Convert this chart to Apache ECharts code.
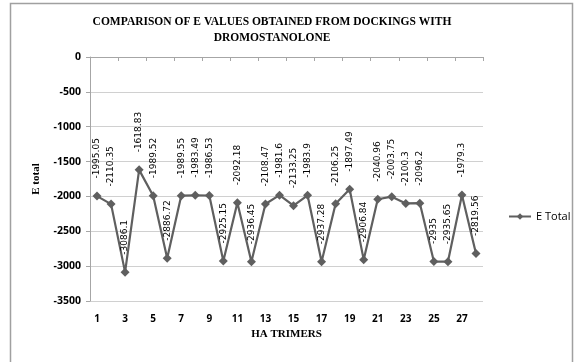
<!DOCTYPE html>
<html>
<head>
<meta charset="utf-8">
<script src="https://cdn.jsdelivr.net/npm/echarts@6/dist/echarts.min.js"></script>
<style>
html,body{margin:0;padding:0;background:#fff;}
#chart{width:575px;height:362px;}
</style>
</head>
<body>
<div id="chart"></div>
<script>
// HA trimer index and docking total energy values
const trimers = ['1','2','3','4','5','6','7','8','9','10','11','12','13','14','15','16','17','18','19','20','21','22','23','24','25','26','27','28'];
const eTotal = [-1995.05, -2110.35, -3086.1, -1618.83, -1989.52, -2886.72, -1989.55, -1983.49, -1986.53, -2925.15,
  -2092.18, -2936.45, -2108.47, -1981.6, -2133.25, -1983.9, -2937.28, -2106.25, -1897.49, -2906.84,
  -2040.96, -2003.75, -2100.3, -2096.2, -2935, -2935.65, -1979.3, -2819.56];
const yTicks = { min: -3500, max: 0, step: 500 };

const chart = echarts.init(document.getElementById('chart'));
const serifBold = { fontFamily: '"Liberation Serif", "DejaVu Serif", serif', fontWeight: 'bold', color: '#000' };
const sansBold = { fontFamily: '"Open Sans", "Liberation Sans", sans-serif', fontWeight: 'bold', color: '#000' };
const lineColor = '#5f5f5f';

chart.setOption({
  animation: false,
  backgroundColor: '#fff',
  title: {
    text: 'COMPARISON OF E VALUES OBTAINED FROM DOCKINGS WITH\nDROMOSTANOLONE',
    left: 267, textAlign: 'center', top: 9,
    textStyle: Object.assign({ fontSize: 11.5, lineHeight: 16 }, serifBold)
  },
  graphic: [{
    type: 'rect', shape: { x: 10.5, y: 3.5, width: 562, height: 360 },
    style: { fill: 'none', stroke: '#a0a0a0', lineWidth: 1.5 }, silent: true
  }],
  legend: {
    data: ['E Total'], left: 503, top: 206, itemWidth: 22, itemHeight: 8,
    textStyle: { fontFamily: '"Open Sans", "Liberation Sans", sans-serif', fontSize: 11, color: '#000' },
    itemGap: 4
  },
  grid: { left: 90, right: 92, top: 57, bottom: 61 },
  xAxis: [{
    type: 'category', data: trimers, position: 'bottom',
    name: 'HA TRIMERS', nameLocation: 'middle', nameGap: 28,
    nameTextStyle: Object.assign({ fontSize: 11 }, serifBold),
    axisLine: { show: false }, axisTick: { show: false },
    axisLabel: Object.assign({ interval: 1, margin: 13, fontSize: 10 }, sansBold)
  }, {
    type: 'category', data: trimers, position: 'top',
    axisLine: { show: true, onZero: false, lineStyle: { color: '#a6a6a6', width: 1 } },
    axisTick: { show: true, inside: true, length: 4, lineStyle: { color: '#a6a6a6' } },
    axisLabel: { show: false }
  }],
  yAxis: {
    type: 'value', min: yTicks.min, max: yTicks.max, interval: yTicks.step,
    name: 'E total', nameLocation: 'middle', nameGap: 48, nameRotate: 90,
    nameTextStyle: Object.assign({ fontSize: 11 }, serifBold),
    axisLine: { show: true, lineStyle: { color: '#a6a6a6' } },
    axisTick: { show: true, length: 4, lineStyle: { color: '#a6a6a6' } },
    axisLabel: Object.assign({ margin: 9, fontSize: 10.5, formatter: v => String(v) }, sansBold),
    splitLine: { lineStyle: { color: '#d0d0d0', width: 1 } }
  },
  series: [{
    name: 'E Total', type: 'line', data: eTotal, xAxisIndex: 0,
    symbol: 'diamond', symbolSize: 9,
    lineStyle: { color: lineColor, width: 2.2 },
    itemStyle: { color: lineColor },
    label: {
      show: true, position: 'top', rotate: 90, distance: 13,
      align: 'left', verticalAlign: 'middle',
      fontFamily: '"DejaVu Sans", sans-serif', fontSize: 9, color: '#000',
      formatter: p => String(p.value)
    }
  }]
});
</script>
</body>
</html>
